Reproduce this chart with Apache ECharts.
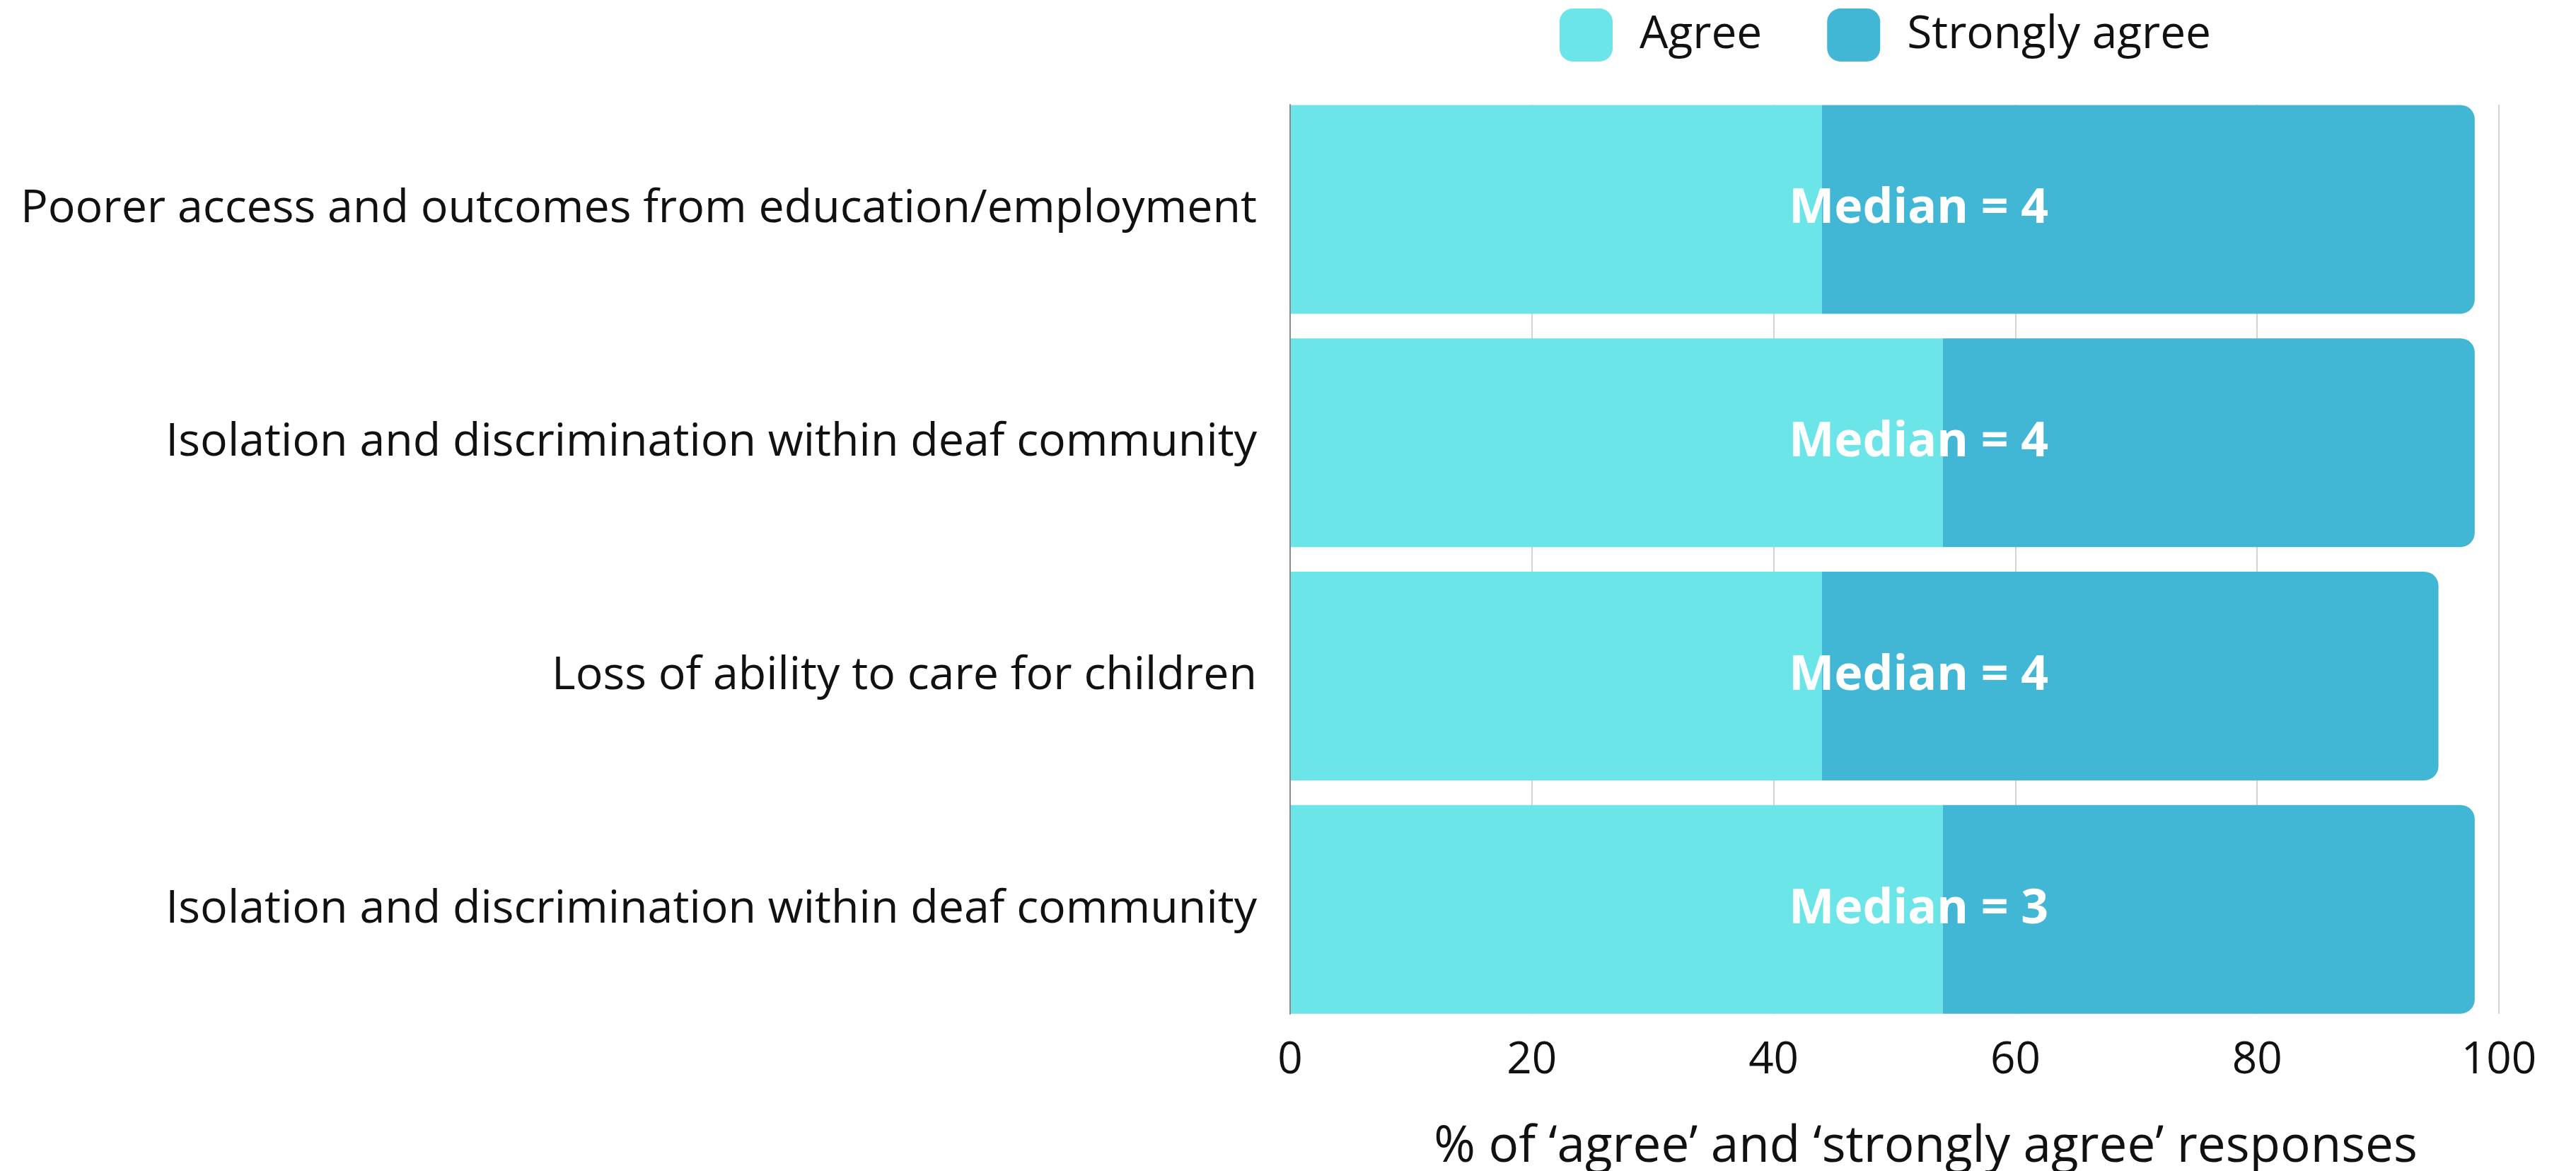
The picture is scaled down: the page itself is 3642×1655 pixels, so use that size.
<!DOCTYPE html>
<html>
<head>
<meta charset="utf-8">
<script src="https://cdn.jsdelivr.net/npm/echarts@6/dist/echarts.min.js"></script>
<style>
html,body{margin:0;padding:0;background:#fff;}
#chart{width:3642px;height:1655px;}
</style>
</head>
<body>
<div id="chart"></div>
<script>
const categories = [
  "Poorer access and outcomes from education/employment",
  "Isolation and discrimination within deaf community",
  "Loss of ability to care for children",
  "Isolation and discrimination within deaf community"
];
const agree = [44, 54, 44, 54];
const stronglyAgree = [54, 44, 51, 44];
const medians = [4, 4, 4, 3];
const xTicks = [0, 20, 40, 60, 80, 100];
const seriesNames = ["Agree", "Strongly agree"];
const axisTitle = "% of \u2018agree\u2019 and \u2018strongly agree\u2019 responses";

const FONT = "Open Sans";
const MEDIAN_X = 52;
const GL = 1824, GR = 3642 - 3533;

const chart = echarts.init(document.getElementById('chart'));
chart.setOption({
  backgroundColor: '#ffffff',
  animation: false,
  textStyle: { fontFamily: FONT },
  legend: {
    data: seriesNames,
    left: 2200, top: 7,
    itemWidth: 75, itemHeight: 75, itemGap: 92,
    icon: 'roundRect',
    textStyle: { fontSize: 64, color: '#111', fontFamily: FONT, padding: [0, 0, 0, 33] }
  },
  grid: [
    { left: GL, right: GR, top: 131, bottom: 205, containLabel: false, outerBoundsMode: 'none' },
    { left: GL, right: GR, top: 148, bottom: 1655 - 1433, containLabel: false, outerBoundsMode: 'none' }
  ],
  xAxis: [
    {
      gridIndex: 0, type: 'value', min: 0, max: 100, interval: 20,
      axisLine: { show: false }, axisTick: { show: false }, splitLine: { show: false },
      axisLabel: { fontSize: 62, color: '#111', margin: 18, fontFamily: FONT,
        formatter: v => xTicks.includes(v) ? String(v) : '' },
      name: axisTitle, nameLocation: 'middle', nameGap: 136,
      nameTextStyle: { fontSize: 71, color: '#111', fontFamily: FONT, padding: [0, 0, 0, 88] }
    },
    {
      gridIndex: 1, type: 'value', min: 0, max: 100, interval: 20,
      axisLine: { show: false }, axisTick: { show: false }, axisLabel: { show: false },
      splitLine: { show: true, lineStyle: { color: '#d4d4d4', width: 2 } }
    }
  ],
  yAxis: [
    {
      gridIndex: 0, type: 'category', data: categories, inverse: true,
      axisLine: { show: false }, axisTick: { show: false },
      axisLabel: { fontSize: 64.5, color: '#111', margin: 47, fontFamily: FONT }
    },
    {
      gridIndex: 1, type: 'category', data: categories, inverse: true, z: 10,
      axisLine: { show: true, lineStyle: { color: '#8a8a8a', width: 2 } },
      axisTick: { show: false }, axisLabel: { show: false }, splitLine: { show: false }
    }
  ],
  series: [
    {
      name: seriesNames[0], type: 'bar', stack: 'total', data: agree,
      xAxisIndex: 0, yAxisIndex: 0,
      barWidth: 295,
      itemStyle: { color: '#6CE5E8' }
    },
    {
      name: seriesNames[1], type: 'bar', stack: 'total', data: stronglyAgree,
      xAxisIndex: 0, yAxisIndex: 0,
      barWidth: 295,
      itemStyle: { color: '#42B7D5', borderRadius: [0, 20, 20, 0] }
    },
    {
      name: 'median', type: 'scatter', xAxisIndex: 0, yAxisIndex: 0,
      symbolSize: 1, itemStyle: { color: 'rgba(0,0,0,0)', opacity: 1 }, z: 20,
      silent: true,
      data: medians.map((m, i) => [MEDIAN_X, i]),
      label: {
        show: true, position: 'inside', offset: [0, 0],
        formatter: p => 'Median = ' + medians[p.dataIndex],
        color: '#ffffff', opacity: 1, fontSize: 68, fontWeight: 'bold', fontFamily: FONT
      }
    }
  ]
});
</script>
</body>
</html>
